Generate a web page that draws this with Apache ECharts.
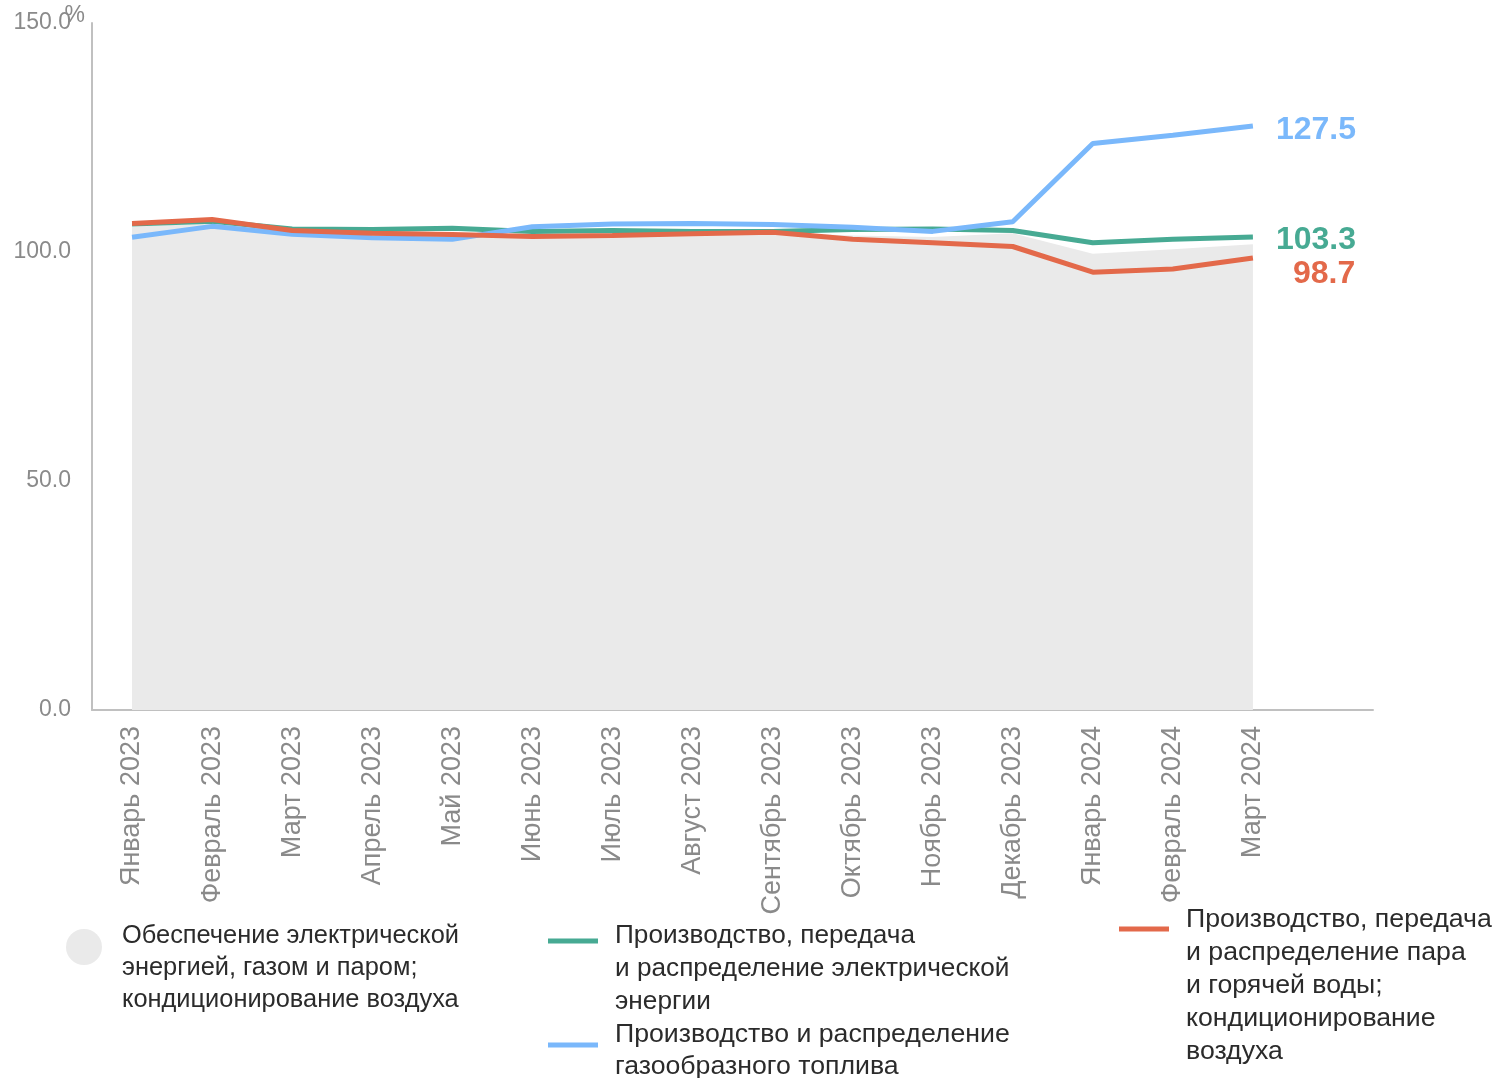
<!DOCTYPE html>
<html><head><meta charset="utf-8">
<script src="https://cdn.jsdelivr.net/npm/echarts@6/dist/echarts.min.js"></script>
<style>html,body{margin:0;padding:0;background:#fff}#c{width:1499px;height:1078px}</style>
</head><body><div id="c"></div>
<script>
const categories = ['Январь 2023','Февраль 2023','Март 2023','Апрель 2023','Май 2023','Июнь 2023','Июль 2023','Август 2023','Сентябрь 2023','Октябрь 2023','Ноябрь 2023','Декабрь 2023','Январь 2024','Февраль 2024','Март 2024'];
const yTicks = [0, 50, 100, 150];
const totalValues = [105.5, 106.3, 104.6, 104.2, 104.0, 103.8, 104.0, 104.1, 104.3, 103.6, 103.3, 104.1, 99.6, 100.6, 101.7];
const electricValues = [106.1, 106.7, 105.0, 104.9, 105.2, 104.5, 104.7, 104.5, 104.5, 104.9, 105.0, 104.7, 102.0, 102.8, 103.3];
const gasValues = [103.2, 105.6, 103.9, 103.1, 102.8, 105.5, 106.1, 106.2, 106.0, 105.4, 104.5, 106.6, 123.7, 125.5, 127.5];
const steamValues = [106.2, 107.1, 104.7, 104.1, 103.8, 103.4, 103.6, 104.0, 104.3, 102.8, 102.0, 101.2, 95.6, 96.3, 98.7];

const names = {
  total: 'Обеспечение электрической энергией, газом и паром; кондиционирование воздуха',
  electric: 'Производство, передача и распределение электрической энергии',
  gas: 'Производство и распределение газообразного топлива',
  steam: 'Производство, передача и распределение пара и горячей воды; кондиционирование воздуха'
};
const legendText = {};
legendText[names.total] = 'Обеспечение электрической\nэнергией, газом и паром;\nкондиционирование воздуха';
legendText[names.electric] = 'Производство, передача\nи распределение электрической\nэнергии';
legendText[names.gas] = 'Производство и распределение\nгазообразного топлива';
legendText[names.steam] = 'Производство, передача\nи распределение пара\nи горячей воды;\nкондиционирование\nвоздуха';

const colors = {total: '#eaeaea', electric: '#47aa93', gas: '#7ab8fb', steam: '#e3694a'};
const FONT = '"Liberation Sans", Arial, sans-serif';

function endLabel(color, offset) {
  return {show: true, distance: 23, offset: offset, color: color, fontSize: 32, fontWeight: 'bold',
    fontFamily: FONT, formatter: (p) => Number(p.value).toFixed(1)};
}

function legendBlock(name, icon, w, h, left, top, lead, pl, lh, fs) {
  return {
    data: [{name: name, icon: icon}], left: left, top: top, orient: 'vertical', padding: 0,
    itemWidth: w, itemHeight: h, selectedMode: false,
    formatter: (n) => '{s| }\n' + legendText[n],
    textStyle: {fontSize: fs, lineHeight: lh, color: '#2b2b2b', fontFamily: FONT, padding: [0, 0, 0, pl],
      rich: {s: {lineHeight: lead, fontSize: 10}}}
  };
}

const chart = echarts.init(document.getElementById('c'));
chart.setOption({
  animation: false,
  textStyle: {fontFamily: FONT},
  grid: {left: 92, right: 126, top: 23, bottom: 368, containLabel: false, outerBoundsMode: 'none'},
  xAxis: {
    type: 'category', data: categories.concat(['']), boundaryGap: true,
    axisLine: {lineStyle: {color: '#c0c0c0', width: 2}},
    axisTick: {show: false},
    axisLabel: {rotate: 90, fontSize: 27, color: '#8a8a8a', margin: 16, interval: 0, fontFamily: FONT}
  },
  yAxis: {
    type: 'value', min: yTicks[0], max: yTicks[yTicks.length - 1], interval: yTicks[1] - yTicks[0],
    name: '%', nameLocation: 'end', nameGap: 7, nameMoveOverlap: false,
    nameTextStyle: {fontSize: 23, color: '#8a8a8a', align: 'right', verticalAlign: 'middle', padding: [0, 7, 0, 0], fontFamily: FONT},
    axisLine: {show: true, lineStyle: {color: '#c0c0c0', width: 2}},
    axisTick: {show: false},
    splitLine: {show: false},
    axisLabel: {fontSize: 23, color: '#8a8a8a', margin: 21, formatter: (v) => v.toFixed(1), fontFamily: FONT}
  },
  legend: [
    legendBlock(names.total, 'circle', 36, 36, 66, 878, 42, 15, 32, 25.4),
    legendBlock(names.electric, 'rect', 50, 5, 548, 864, 55, 12, 33, 26.2),
    legendBlock(names.gas, 'rect', 50, 5, 548, 1007, 12, 12, 32, 26.7),
    legendBlock(names.steam, 'rect', 50, 5, 1119, 790, 113, 12, 33, 26.7)
  ],
  series: [
    {name: names.total, type: 'line', data: totalValues, symbol: 'none', z: 1,
      itemStyle: {color: colors.total}, lineStyle: {width: 0}, areaStyle: {color: colors.total, opacity: 1}},
    {name: names.electric, type: 'line', data: electricValues, symbol: 'none', z: 3,
      itemStyle: {color: colors.electric}, lineStyle: {width: 5, color: colors.electric},
      endLabel: endLabel(colors.electric, [0, 3])},
    {name: names.gas, type: 'line', data: gasValues, symbol: 'none', z: 4,
      itemStyle: {color: colors.gas}, lineStyle: {width: 5, color: colors.gas},
      endLabel: endLabel(colors.gas, [0, 4])},
    {name: names.steam, type: 'line', data: steamValues, symbol: 'none', z: 5,
      itemStyle: {color: colors.steam}, lineStyle: {width: 5, color: colors.steam},
      endLabel: endLabel(colors.steam, [17, 16])}
  ]
});
</script></body></html>
